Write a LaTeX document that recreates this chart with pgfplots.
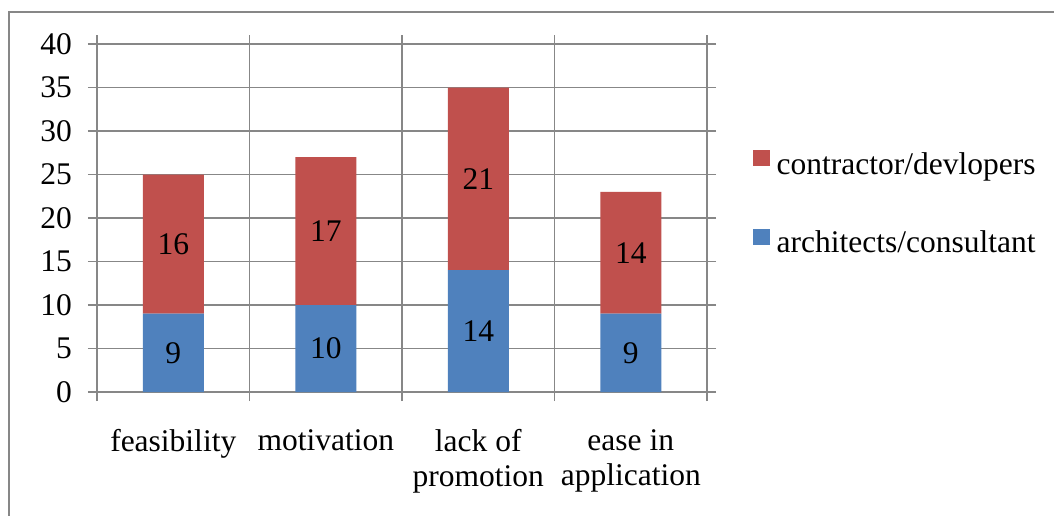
\documentclass[border=0pt]{standalone}
\usepackage{pgfplots}
\pgfplotsset{compat=1.18}
\usepackage{fontspec}
\setmainfont{Liberation Serif}
\definecolor{barred}{HTML}{C0504D}
\definecolor{barblue}{HTML}{4F81BD}
\definecolor{gridgray}{HTML}{878787}
\begin{document}
\fontsize{31.5}{35}\selectfont
\begin{tikzpicture}[x=1pt,y=1pt]
\useasboundingbox (0,0) rectangle (1054,515);
\fill[white] (0,0) rectangle (1054,515);
\draw[gridgray, line width=1.8pt] (9,-20) -- (9,503) -- (1080,503);
\begin{axis}[
  at={(97pt,123pt)}, anchor=south west,
  scale only axis, width=610pt, height=348pt,
  ybar stacked, bar width=0.4,
  xmin=-0.5, xmax=3.5, ymin=0, ymax=40,
  ytick={0,5,...,40},
  xtick={-0.5,0.5,1.5,2.5,3.5},
  xticklabels={,,,,},
  extra x ticks={0,1,2,3},
  extra x tick labels={feasibility,motivation,{lack of\\promotion},{ease in\\application}},
  extra x tick style={major tick length=0pt, xmajorgrids=false,
    xticklabel style={align=center, anchor=north, inner sep=0pt, yshift=-37pt}},
  xmajorgrids, ymajorgrids,
  tick align=outside, major tick length=9pt,
  grid style={gridgray, line width=1.4pt},
  axis line style={gridgray, line width=1.4pt},
  tick style={gridgray, line width=1.4pt},
  /pgf/number format/assume math mode=true,
  yticklabel style={anchor=east, inner sep=0pt, xshift=-16pt},
  reverse legend,
  legend style={at={(1.0754,0.541)}, anchor=west, draw=none, fill=none,
    inner sep=0pt, row sep=50pt, column sep=7pt, nodes={inner sep=0pt}},
  legend cell align=left,
  legend image code/.code={\fill[#1] (0pt,-0.5pt) rectangle (16.5pt,15.5pt);},
  nodes near coords, point meta=explicit symbolic,
  nodes near coords align={center},
  every node near coord/.style={anchor=center, inner sep=0pt, text=black},
]
\addplot[fill=barblue, draw=none] coordinates {(0,9)[9] (1,10)[10] (2,14)[14] (3,9)[9]};
\addlegendentry{architects/consultant}
\addplot[fill=barred, draw=none] coordinates {(0,16)[16] (1,17)[17] (2,21)[21] (3,14)[14]};
\addlegendentry{contractor/devlopers}
\end{axis}
\end{tikzpicture}
\end{document}
